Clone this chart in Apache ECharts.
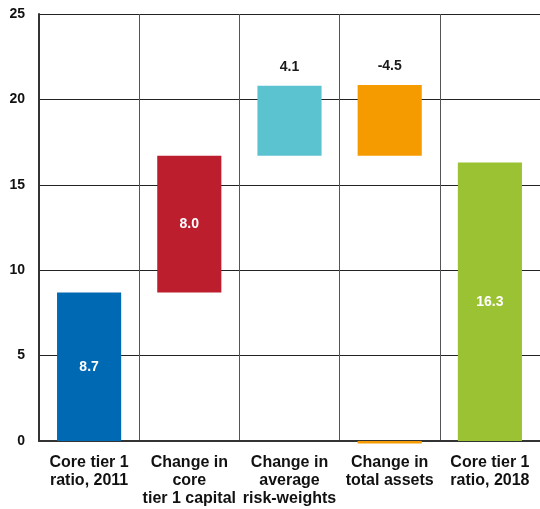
<!DOCTYPE html>
<html>
<head>
<meta charset="utf-8">
<script src="https://cdn.jsdelivr.net/npm/echarts@6/dist/echarts.min.js"></script>
<style>
  html, body { margin: 0; padding: 0; background: #fff; }
  #main { width: 540px; height: 509px; }
</style>
</head>
<body>
<div id="main"></div>
<script>
// data
var categories = ['Core tier 1\nratio, 2011', 'Change in\ncore\ntier 1 capital', 'Change in\naverage\nrisk-weights', 'Change in\ntotal assets', 'Core tier 1\nratio, 2018'];
var shownValues = ['8.7', '8.0', '4.1', '-4.5', '16.3'];
var barBottoms = [0, 8.7, 16.7, 16.7, 0];
var barTops = [8.7, 16.7, 20.8, 20.85, 16.3];
var zeroSliver = [null, null, null, -0.15, null];
var barColors = ['#0069b4', '#bd1e2d', '#5bc2cf', '#f59b00', '#9bc232'];
var labelInside = [true, true, false, false, true];
var yTicks = [0, 5, 10, 15, 20, 25];

var myChart = echarts.init(document.getElementById('main'));
var font = 'Liberation Sans, Arial, sans-serif';

var visibleData = barTops.map(function (top, i) {
    return {
        value: +(top - barBottoms[i]).toFixed(2),
        itemStyle: { color: barColors[i] },
        label: labelInside[i]
            ? { show: true, position: 'inside', color: '#fff' }
            : { show: true, position: 'top', color: '#1a1a1a', distance: 12 }
    };
});

var option = {
    animation: false,
    grid: { left: 39, right: -3, top: 14, bottom: 68 },
    xAxis: {
        type: 'category',
        data: categories,
        axisTick: { show: false },
        axisLine: { lineStyle: { color: '#333', width: 2 } },
        axisLabel: {
            interval: 0, margin: 13, color: '#111', fontFamily: font,
            fontWeight: 'bold', fontSize: 16, lineHeight: 18
        },
        splitLine: { show: true, lineStyle: { color: '#555', width: 1 } }
    },
    yAxis: {
        type: 'value',
        min: yTicks[0],
        max: yTicks[yTicks.length - 1],
        interval: 5,
        axisLine: { show: true, lineStyle: { color: '#333', width: 2 } },
        axisTick: { show: false },
        axisLabel: { margin: 14, color: '#111', fontFamily: font, fontWeight: 'bold', fontSize: 14 },
        splitLine: { lineStyle: { color: '#222', width: 1 } }
    },
    series: [
        {
            type: 'bar', stack: 'w', barWidth: '64%',
            itemStyle: { color: 'transparent' },
            data: barBottoms, silent: true
        },
        {
            type: 'bar', stack: 'w', barWidth: '64%',
            data: visibleData,
            label: {
                fontFamily: font, fontWeight: 'bold', fontSize: 14,
                formatter: function (p) { return shownValues[p.dataIndex]; }
            }
        },
        {
            // thin orange line just under the zero line, as in the original
            type: 'bar', stack: 'w', barWidth: '64%', z: 5, clip: false,
            itemStyle: { color: barColors[3] },
            data: zeroSliver
        }
    ]
};

myChart.setOption(option);
</script>
</body>
</html>
